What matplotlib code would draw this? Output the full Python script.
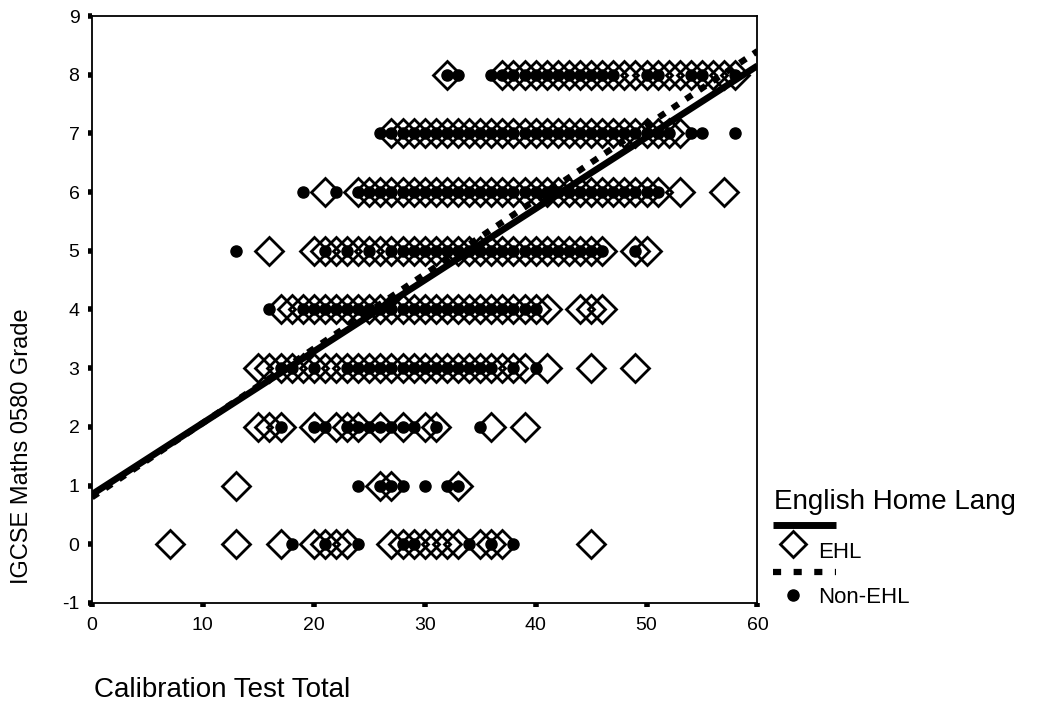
#Scatter of IGCSE grade against calibration test total, EHL vs Non-EHL, with fit lines
import numpy as np
import matplotlib
matplotlib.use("Agg")
import matplotlib.pyplot as plt
from matplotlib.lines import Line2D

plt.rcParams['font.family'] = ['Liberation Sans', 'DejaVu Sans']
plt.rcParams['axes.unicode_minus'] = False

# test totals per grade, EHL = English home language
ehl = {
    8: [32] + list(range(37, 48)) + [48, 49, 50, 51, 52, 53, 54, 55, 56, 57, 58],
    7: list(range(27, 54)),
    6: [21] + list(range(24, 52)) + [53, 57],
    5: [16] + list(range(20, 47)) + [49, 50],
    4: list(range(17, 42)) + [44, 45, 46],
    3: list(range(15, 40)) + [41, 45, 49],
    2: [15, 16, 17, 20, 22, 23, 24, 26, 28, 30, 31, 36, 39],
    1: [13, 26, 27, 33],
    0: [7, 13, 17, 20, 21, 22, 23, 27, 28, 29, 30, 31, 32, 33, 35, 36, 37, 45],
}
non_ehl = {
    8: [32, 33] + list(range(36, 48)) + [50, 51, 54, 55, 58],
    7: list(range(26, 53)) + [54, 55, 58],
    6: [19, 22] + list(range(24, 52)),
    5: [13, 21, 23, 25] + list(range(27, 47)) + [49],
    4: [16] + list(range(19, 41)),
    3: [17, 18, 20] + list(range(23, 37)) + [38, 40],
    2: [17, 20, 21, 23, 24, 25, 26, 27, 28, 29, 31, 35],
    1: [24, 26, 27, 28, 30, 32, 33],
    0: [18, 21, 24, 28, 29, 34, 36, 38],
}

# linear fit lines (intercept, slope)
ehl_fit = (0.85, 0.1217)
non_ehl_fit = (0.80, 0.1267)

def flatten(d):
    xs, ys = [], []
    for g, vals in d.items():
        xs += vals
        ys += [g] * len(vals)
    return np.array(xs), np.array(ys)

fig = plt.figure(figsize=(10.39, 7.05), dpi=100)
ax = fig.add_axes([0.0885, 0.1447, 0.6405, 0.8326])

xe, ye = flatten(ehl)
xn, yn = flatten(non_ehl)
ax.plot(xe, ye, 'D', ms=14, mfc='none', mec='black', mew=2.0, ls='none', zorder=2)
ax.plot(xn, yn, 'o', ms=8, mfc='black', mec='black', ls='none', zorder=3)

xl = np.array([0, 60])
ax.plot(xl, ehl_fit[0] + ehl_fit[1] * xl, color='black', lw=4.8,
        solid_capstyle='butt', zorder=4)
ax.plot(xl, non_ehl_fit[0] + non_ehl_fit[1] * xl, color='black', lw=4.5,
        ls=(0, (1.2, 1.4)), dash_capstyle='butt', zorder=4)

ax.set_xlim(0, 60)
ax.set_ylim(-1, 9)
ax.set_xticks(range(0, 61, 10))
ax.set_yticks(range(-1, 10))
for s in ax.spines.values():
    s.set_linewidth(1.3)
ax.tick_params(direction='out', length=3, width=4, labelsize=14)
ax.tick_params(axis='x', pad=7)
ax.tick_params(axis='y', pad=6)

fig.text(0.021, 0.367, 'IGCSE Maths 0580 Grade', rotation=90, fontsize=17,
         ha='center', va='center')
fig.text(0.0905, 0.021, 'Calibration Test Total', fontsize=20, ha='left', va='center')

# legend, drawn by hand to match the original layout
fig.text(0.745, 0.288, 'English Home Lang', fontsize=20, ha='left', va='center')
fig.add_artist(Line2D([0.744, 0.805], [0.255, 0.255], color='black', lw=5,
                      solid_capstyle='butt', transform=fig.transFigure))
fig.add_artist(Line2D([0.763], [0.228], marker='D', ms=13, mfc='none', mec='black',
                      mew=2.0, transform=fig.transFigure))
fig.text(0.787, 0.217, 'EHL', fontsize=16, ha='left', va='center')
fig.add_artist(Line2D([0.744, 0.805], [0.188, 0.188], color='black', lw=4.5,
                      ls=(0, (1.3, 2)), dash_capstyle='butt', transform=fig.transFigure))
fig.add_artist(Line2D([0.763], [0.156], marker='o', ms=8, mfc='black', mec='black',
                      transform=fig.transFigure))
fig.text(0.787, 0.152, 'Non-EHL', fontsize=16, ha='left', va='center')

fig.savefig('out.png', dpi=100)
